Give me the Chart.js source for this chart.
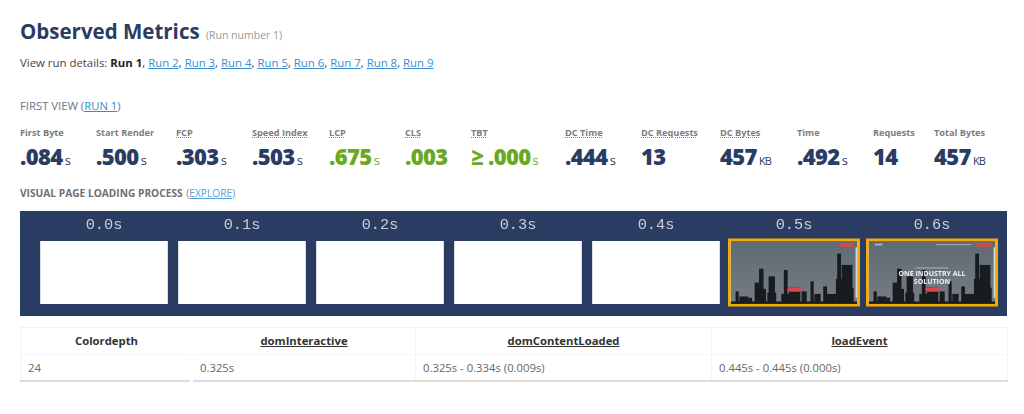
<!DOCTYPE html>
<html>
<head>
<meta charset="utf-8">
<script src="https://cdn.jsdelivr.net/npm/chart.js@4"></script>
<style>
  html, body { margin: 0; background: #fff; }
  body { width: 1024px; height: 414px; overflow: hidden; position: relative; font-family: "Open Sans", sans-serif; color: #555; filter: blur(0.5px); }
  a { color: #3b8ccf; text-decoration: underline; }
  .abs { position: absolute; white-space: nowrap; }
  #title { left: 20px; top: 16px; font-size: 20.5px; font-weight: 700; color: #2b3c63; line-height: 30px; }
  #title small { font-size: 10.5px; font-weight: 400; color: #999; margin-left: 1px; }
  #runs { left: 20px; top: 54px; font-size: 11.4px; line-height: 18px; color: #444; }
  #runs b { color: #222; }
  #first { left: 20px; top: 97px; font-size: 11.3px; line-height: 18px; color: #65788f; }
  #metrics { left: 20px; top: 126px; display: grid; grid-template-columns: 76px 80px 76px 77px 76px 66px 94px 76px 79px 77px 76px 61px 80px; }
  .lab { font-size: 9.2px; font-weight: 700; color: #7d7d7d; line-height: 14px; }
  .lab.dot span { text-decoration: underline dotted; }
  .val { font-size: 22px; font-weight: 800; color: #2b3c63; line-height: 30px; margin-top: 1px; letter-spacing: -0.6px; }
  .val small { font-size: 13px; font-weight: 400; margin-left: 2px; letter-spacing: 0; }
  .val small.kb { font-size: 11px; letter-spacing: -0.8px; }
  .val.good { color: #69a91f; }
  #visual { left: 20px; top: 184px; font-size: 10.2px; line-height: 18px; font-weight: 700; color: #6f6f6f; }
  #visual span { font-weight: 400; color: #888; margin-left: 1px; }
  #visual a { color: #5a9fd6; }
  #strip { position: absolute; left: 20px; top: 211px; width: 987px; height: 105px; }
  table { position: absolute; left: 20px; top: 327px; width: 987px; border-collapse: collapse; table-layout: fixed; border-top: 1px solid #f1f1f1; border-bottom: 2px solid #ddd; }
  th, td { border-left: 1px solid #f3f3f3; border-right: 1px solid #f3f3f3; padding: 0 7px; height: 25.5px; font-size: 11.3px; }
  th { font-weight: 700; color: #333; border-bottom: 1px solid #f6f6f6; }
  th u { text-decoration: underline; }
  td { color: #666; }
  #gap { position: absolute; left: 190px; top: 326px; width: 3px; height: 58px; background: #fff; }
</style>
</head>
<body>
<div class="abs" id="title">Observed Metrics <small>(Run number 1)</small></div>
<div class="abs" id="runs"></div>
<div class="abs" id="first">FIRST VIEW (<a href="#">RUN 1</a>)</div>
<div class="abs" id="metrics"></div>
<div class="abs" id="visual">VISUAL PAGE LOADING PROCESS <span>(<a href="#">EXPLORE</a>)</span></div>
<div id="strip"><canvas id="filmstrip"></canvas></div>
<table id="timings"></table>
<div id="gap"></div>

<script>
const runNames = ['Run 1', 'Run 2', 'Run 3', 'Run 4', 'Run 5', 'Run 6', 'Run 7', 'Run 8', 'Run 9'];

const metricNames = ['First Byte', 'Start Render', 'FCP', 'Speed Index', 'LCP', 'CLS', 'TBT', 'DC Time', 'DC Requests', 'DC Bytes', 'Time', 'Requests', 'Total Bytes'];
const metricValues = ['.084', '.500', '.303', '.503', '.675', '.003', '≥ .000', '.444', '13', '457', '.492', '14', '457'];
const metricUnits = ['s', 's', 's', 's', 's', '', 's', 's', '', 'KB', 's', '', 'KB'];
const metricsGood = ['LCP', 'CLS', 'TBT'];
const metricsDotted = ['FCP', 'Speed Index', 'LCP', 'CLS', 'TBT', 'DC Time', 'DC Requests', 'DC Bytes'];

const frameTimes = ['0.0s', '0.1s', '0.2s', '0.3s', '0.4s', '0.5s', '0.6s'];
const frameShown = [1, 1, 1, 1, 1, 1, 1];
const frameChanged = [false, false, false, false, false, true, true];

const tableHeads = ['Colordepth', 'domInteractive', 'domContentLoaded', 'loadEvent'];
const tableCells = ['24', '0.325s', '0.325s - 0.334s (0.009s)', '0.445s - 0.445s (0.000s)'];

// the page text
document.getElementById('runs').innerHTML = 'View run details: ' + runNames.map(function(name, i) {
  return i === 0 ? '<b>' + name + '</b>' : '<a href="#">' + name + '</a>';
}).join(', ');

document.getElementById('metrics').innerHTML =
  metricNames.map(function(name) {
    return '<div class="lab' + (metricsDotted.includes(name) ? ' dot' : '') + '"><span>' + name + '</span></div>';
  }).join('') +
  metricValues.map(function(value, i) {
    const good = metricsGood.includes(metricNames[i]);
    const unit = metricUnits[i];
    return '<div class="val' + (good ? ' good' : '') + '">' + value + (unit ? '<small' + (unit === 'KB' ? ' class="kb"' : '') + '>' + unit + '</small>' : '') + '</div>';
  }).join('');

document.getElementById('timings').innerHTML =
  '<colgroup><col style="width:172px"><col style="width:223px"><col style="width:296px"><col style="width:296px"></colgroup>' +
  '<tr>' + tableHeads.map(function(head, i) { return '<th>' + (i === 0 ? head : '<u>' + head + '</u>') + '</th>'; }).join('') + '</tr>' +
  '<tr>' + tableCells.map(function(cell) { return '<td>' + cell + '</td>'; }).join('') + '</tr>';

// refinery silhouette in the screenshots: left, width, height as share of the frame
const skyline = [
  [0.04, 0.025, 0.2], [0.07, 0.07, 0.12], [0.14, 0.03, 0.1], [0.19, 0.035, 0.34], [0.225, 0.035, 0.56],
  [0.21, 0.07, 0.24], [0.30, 0.05, 0.44], [0.29, 0.07, 0.18], [0.42, 0.03, 0.54], [0.40, 0.07, 0.16],
  [0.46, 0.09, 0.26], [0.56, 0.04, 0.2], [0.63, 0.025, 0.36], [0.66, 0.05, 0.16], [0.73, 0.03, 0.28],
  [0.76, 0.07, 0.16], [0.84, 0.03, 0.8], [0.83, 0.05, 0.4], [0.875, 0.085, 0.62], [0.86, 0.11, 0.26],
  [0.0, 1.0, 0.04]
];

const screenshots = {
  id: 'screenshots',
  afterDatasetsDraw(chart) {
    const ctx = chart.ctx;
    chart.getDatasetMeta(0).data.forEach(function(bar, i) {
      if (!frameChanged[i]) return;
      const w = bar.width, left = bar.x - w / 2, top = bar.y, h = bar.base - bar.y;
      ctx.save();
      ctx.beginPath();
      ctx.rect(left, top, w, h);
      ctx.clip();
      ctx.filter = 'blur(0.5px)';
      const sky = ctx.createLinearGradient(0, top, 0, top + h);
      sky.addColorStop(0, '#5f6a74');
      sky.addColorStop(1, '#767d83');
      ctx.fillStyle = sky;
      ctx.fillRect(left, top, w, h);
      ctx.fillStyle = '#181b20';
      skyline.forEach(function(t) {
        ctx.fillRect(left + t[0] * w, top + h * (1 - t[2]), t[1] * w, h * t[2]);
      });
      ctx.fillStyle = '#d9474a';
      ctx.beginPath();
      ctx.roundRect(left + 0.85 * w, top + 0.03 * h, 0.12 * w, 0.06 * h, 2);
      ctx.roundRect(left + 0.447 * w, top + 0.74 * h, 0.116 * w, 0.065 * h, 2);
      ctx.fill();
      ctx.fillStyle = '#d5d8db';
      ctx.fillRect(left + 0.985 * w, top + 0.1 * h, 0.012 * w, 0.8 * h);
      if (frameTimes[i] === '0.6s') {
        ctx.fillStyle = '#eef0f2';
        ctx.font = '700 7px "Open Sans"';
        ctx.textAlign = 'center';
        ctx.textBaseline = 'middle';
        ctx.fillText('ONE INDUSTRY ALL', left + w / 2, top + 0.53 * h);
        ctx.fillText('SOLUTION', left + w / 2, top + 0.65 * h);
        ctx.fillStyle = '#aab0b6';
        ctx.fillRect(left + 0.37 * w, top + 0.42 * h, 0.26 * w, 1);
        ctx.fillRect(left + 0.05 * w, top + 0.04 * h, 0.06 * w, 2);
        ctx.fillRect(left + 0.53 * w, top + 0.05 * h, 0.28 * w, 1);
      }
      ctx.restore();
      ctx.save();
      ctx.strokeStyle = '#f4aa00';
      ctx.lineWidth = 2.6;
      ctx.strokeRect(left - 1.2, top - 1.2, w + 2.4, h + 2.4);
      ctx.restore();
    });
  }
};

const navyPanel = {
  id: 'navyPanel',
  beforeDraw(chart) {
    chart.ctx.fillStyle = '#2b3c63';
    chart.ctx.fillRect(0, 0, chart.width, chart.height);
  }
};

new Chart(document.getElementById('filmstrip').getContext('2d'), {
  type: 'bar',
  data: {
    labels: frameTimes,
    datasets: [{
      data: frameShown,
      backgroundColor: '#ffffff',
      borderWidth: 0,
      barThickness: 127
    }]
  },
  options: {
    responsive: true,
    maintainAspectRatio: false,
    animation: false,
    layout: { padding: { left: 15, right: 6, top: 0, bottom: 12 } },
    plugins: { legend: { display: false }, tooltip: { enabled: false } },
    scales: {
      x: {
        position: 'top',
        afterFit: function(axis) { axis.height = 30; },
        grid: { display: false, drawTicks: false },
        border: { display: false },
        ticks: { color: '#c9cfda', padding: 7, font: { family: 'Liberation Mono', size: 15.3 }, maxRotation: 0 }
      },
      y: { display: false, min: 0, max: 1 }
    }
  },
  plugins: [navyPanel, screenshots]
});
</script>
</body>
</html>
